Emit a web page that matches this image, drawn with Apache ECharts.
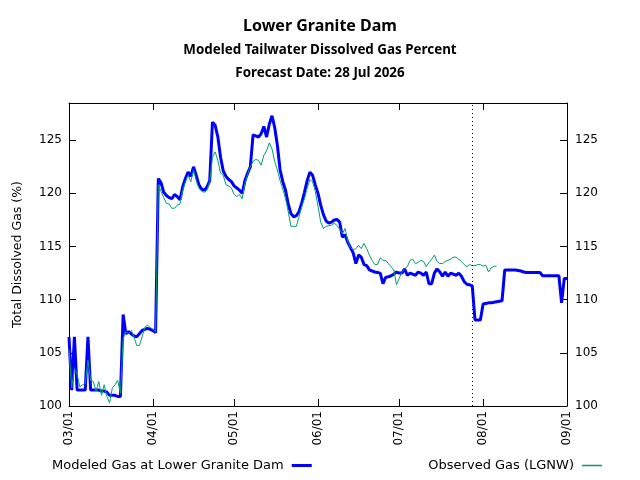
<!DOCTYPE html>
<html>
<head>
<meta charset="utf-8">
<script src="https://cdn.jsdelivr.net/npm/echarts@6/dist/echarts.min.js"></script>
<style>html,body{margin:0;padding:0;background:#fff}#c{width:640px;height:480px}</style>
</head>
<body>
<div id="c"></div>
<script>
const startDate = [2026, 2, 1];
const forecastDate = [2026, 6, 28];
const tickLabels = ['03/01','04/01','05/01','06/01','07/01','08/01','09/01'];
const yTicks = [100, 105, 110, 115, 120, 125];

const modeledName = 'Modeled Gas at Lower Granite Dam';
const observedName = 'Observed Gas (LGNW)';

// daily values starting 03/01
const modeled = [
 106.5,101.5,106.5,101.5,101.5,101.5,101.5,106.5,101.5,101.5,
 101.5,101.5,101.4,101.4,101.3,101.0,101.0,101.0,100.9,100.9,
 108.6,106.8,107.0,106.8,106.6,106.5,106.8,107.1,107.2,107.3,
 107.2,107.1,106.9,121.4,121.0,120.1,119.8,119.6,119.5,119.9,
 119.7,119.4,120.6,121.4,122.0,121.6,122.5,121.7,120.8,120.4,
 120.3,120.6,121.2,126.7,126.4,125.3,123.4,122.1,121.6,121.3,
 121.1,120.7,120.5,120.3,120.0,121.2,121.9,122.5,125.5,125.4,
 125.3,125.6,126.3,125.3,126.5,127.3,126.2,124.5,122.2,121.1,
 120.3,119.0,118.1,117.8,117.9,118.3,119.1,120.1,121.2,122.0,
 121.7,120.8,120.0,118.9,118.0,117.4,117.2,117.3,117.5,117.55,
 117.3,115.9,116.1,115.4,114.9,114.4,113.4,114.2,114.0,113.3,
 113.2,112.8,112.7,112.6,112.55,112.5,111.5,112.1,112.15,112.25,
 112.4,112.6,112.5,112.5,112.9,112.3,112.5,112.4,112.3,112.6,
 112.5,112.3,112.6,111.5,111.5,112.5,112.9,112.6,112.2,112.6,
 112.2,112.5,112.4,112.3,112.5,112.2,111.7,111.45,111.4,111.3,
 108.1,108.1,108.1,109.6,109.65,109.7,109.7,109.75,109.8,109.85,
 109.9,112.8,112.8,112.8,112.8,112.8,112.75,112.7,112.6,112.55,
 112.55,112.55,112.55,112.55,112.55,112.25,112.25,112.25,112.25,112.25,
 112.25,112.25,109.7,112.0,112.0
];
const observed = [
 105.3,101.7,103.5,103.0,101.8,102.0,102.1,104.3,102.4,102.3,
 101.4,102.3,101.0,102.0,100.9,100.3,101.7,102.0,102.4,101.2,
 106.3,107.0,106.8,107.1,106.5,105.7,105.7,106.5,107.4,107.6,
 107.4,107.2,107.0,120.8,120.2,119.6,119.05,119.0,118.6,118.6,
 118.9,119.0,120.3,121.1,121.7,121.1,122.2,121.2,120.5,120.2,
 120.1,120.3,121.1,123.4,123.9,123.1,121.9,121.7,120.8,120.7,
 120.5,119.9,119.7,119.9,119.5,120.9,121.8,122.5,123.0,123.2,
 123.1,122.65,123.6,124.0,124.75,124.2,123.0,122.2,121.2,120.4,
 119.5,118.3,116.9,116.9,116.9,117.8,118.8,119.5,120.5,121.3,
 121.1,120.2,118.8,117.3,116.7,116.9,116.95,117.0,117.2,117.0,
 116.6,116.2,116.7,115.5,114.9,114.7,114.8,115.1,114.8,115.3,
 114.8,114.2,113.7,113.3,113.3,113.95,113.7,113.7,113.4,113.1,
 112.8,111.4,112.0,112.6,112.9,113.1,113.7,113.8,113.4,113.5,
 113.7,113.6,113.1,113.5,113.8,114.2,113.6,113.4,113.4,113.6,
 113.7,113.8,114.0,114.0,113.8,113.6,113.3,113.1,113.3,113.2,
 113.2,113.3,113.3,113.15,113.25,112.6,113.0,113.15,113.15
];

function dayTs(i){ return new Date(startDate[0], startDate[1], startDate[2] + i).getTime(); }
function labelTs(s){ const p = s.split('/'); return new Date(startDate[0], +p[0]-1, +p[1]).getTime(); }
const tickTs = tickLabels.map(labelTs);
const xMin = tickTs[0], xMax = tickTs[tickTs.length-1];
const fcTs = new Date(forecastDate[0], forecastDate[1], forecastDate[2]).getTime();

const modeledData = modeled.map((v,i)=>[dayTs(i), v]);
const observedData = observed.map((v,i)=>[dayTs(i), v]);

const FONT = 'DejaVu Sans';
const TFONT = 'Noto Sans';
function yFmt(v){ return yTicks.indexOf(Math.round(v*1000)/1000) >= 0 ? String(v) : ''; }
function xFmt(v){ let k = -1; tickTs.forEach((t,j)=>{ if (Math.abs(t - v) < 3600000) k = j; }); return k >= 0 ? tickLabels[k] : ''; }

const axisLine = {show:true, onZero:false, lineStyle:{color:'#000', width:1}};
const chart = echarts.init(document.getElementById('c'), null, {renderer:'canvas'});
chart.setOption({
  animation:false,
  backgroundColor:'#fff',
  title:[
    {text:'Lower Granite Dam', left:'center', top:13, textStyle:{fontFamily:TFONT, fontWeight:'bold', fontSize:16, color:'#000'}},
    {text:'Modeled Tailwater Dissolved Gas Percent', left:'center', top:39, textStyle:{fontFamily:TFONT, fontWeight:'bold', fontSize:13.4, color:'#000'}},
    {text:'Forecast Date: 28 Jul 2026', left:'center', top:62, textStyle:{fontFamily:TFONT, fontWeight:'bold', fontSize:13.4, color:'#000'}}
  ],
  legend:[
    {data:[{name:modeledName, icon:'rect'}], left:47, top:454, align:'right', itemWidth:20, itemHeight:3, itemGap:8,
     textStyle:{fontFamily:FONT, fontSize:13, color:'#000', padding:[0,3,0,0]}},
    {data:[{name:observedName, icon:'rect', itemStyle:{color:'#009e73'}}], right:33, top:454, align:'right', itemWidth:20, itemHeight:1.5,
     textStyle:{fontFamily:FONT, fontSize:13, color:'#000', padding:[0,3,0,0]}}
  ],
  grid:{left:69, right:73, top:103, bottom:74, containLabel:false},
  xAxis:[
    {type:'value', min:xMin, max:xMax, position:'bottom',
     axisLine:axisLine,
     axisTick:{show:true, inside:true, length:7, customValues:tickTs, lineStyle:{color:'#000'}},
     axisLabel:{show:true, rotate:90, margin:5, customValues:tickTs, formatter:xFmt,
       fontFamily:FONT, fontSize:12, color:'#000'},
     splitLine:{show:false}},
    {type:'value', min:xMin, max:xMax, position:'top',
     axisLine:axisLine,
     axisTick:{show:true, inside:true, length:7, customValues:tickTs, lineStyle:{color:'#000'}},
     axisLabel:{show:false},
     splitLine:{show:false}}
  ],
  yAxis:[
    {type:'value', min:100, max:128.5, interval:5, position:'left',
     name:'Total Dissolved Gas (%)', nameLocation:'middle', nameGap:45,
     nameTextStyle:{fontFamily:FONT, fontSize:12.5, color:'#000'},
     axisLine:axisLine,
     axisTick:{show:true, inside:true, length:7, lineStyle:{color:'#000'}},
     axisLabel:{formatter:yFmt, margin:7, fontFamily:FONT, fontSize:12, color:'#000'},
     splitLine:{show:false}},
    {type:'value', min:100, max:128.5, interval:5, position:'right',
     axisLine:axisLine,
     axisTick:{show:true, inside:true, length:7, lineStyle:{color:'#000'}},
     axisLabel:{formatter:yFmt, margin:8, fontFamily:FONT, fontSize:12, color:'#000'},
     splitLine:{show:false}}
  ],
  series:[
    {name:modeledName, type:'line', data:modeledData, xAxisIndex:0, yAxisIndex:0,
     symbol:'none', showSymbol:false, color:'#0000ff',
     lineStyle:{color:'#0000ff', width:3}, z:2,
     markLine:{silent:true, symbol:['none','none'], label:{show:false},
       lineStyle:{color:'#000', type:[1,3], width:1},
       data:[{xAxis:fcTs}]}},
    {name:observedName, type:'line', data:observedData, xAxisIndex:0, yAxisIndex:0,
     symbol:'none', showSymbol:false, color:'#009e73',
     lineStyle:{color:'#009e73', width:1}, z:3}
  ]
});
</script>
</body>
</html>
